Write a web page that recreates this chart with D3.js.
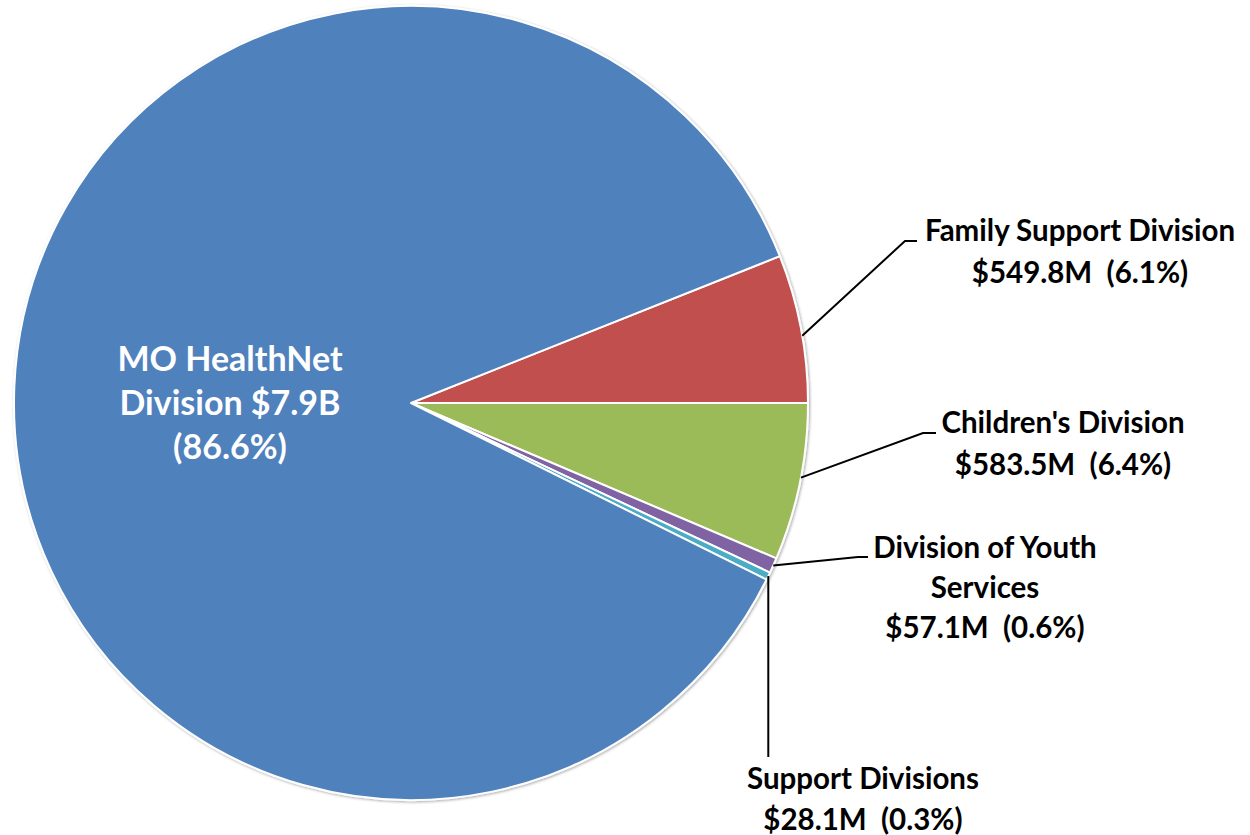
<!DOCTYPE html>
<html>
<head>
<meta charset="utf-8">
<script src="https://cdn.jsdelivr.net/npm/d3@7"></script>
<style>
  html, body { margin: 0; padding: 0; background: #fff; }
  svg { display: block; }
</style>
</head>
<body>
<svg id="chart" width="1250" height="835"></svg>
<script>
// ---- data ----
const categories = ["Family Support Division", "Children's Division", "Division of Youth Services", "Support Divisions", "MO HealthNet Division"];
const valuesM = [549.8, 583.5, 57.1, 28.1, 7900];
const amountLabels = ["$549.8M", "$583.5M", "$57.1M", "$28.1M", "$7.9B"];
const percentLabels = ["(6.1%)", "(6.4%)", "(0.6%)", "(0.3%)", "(86.6%)"];
const colors = ["#C0504D", "#9BBB59", "#8064A2", "#4BACC6", "#4F81BD"];

// label line layout (text lines per slice)
const labelLines = [
  ["Family Support Division", amountLabels[0] + "\u00a0\u00a0" + percentLabels[0]],
  ["Children's Division", amountLabels[1] + "\u00a0\u00a0" + percentLabels[1]],
  ["Division of Youth", "Services", amountLabels[2] + "\u00a0\u00a0" + percentLabels[2]],
  ["Support Divisions", amountLabels[3] + "\u00a0\u00a0" + percentLabels[3]],
  ["MO HealthNet", "Division " + amountLabels[4], percentLabels[4]]
];

const svg = d3.select("#chart");
const cx = 411, cy = 403, R = 397;
const g = svg.append("g").attr("transform", `translate(${cx},${cy})`);

const total = d3.sum(valuesM);
const firstSpan = valuesM[0] / total * 2 * Math.PI;
const start = Math.PI / 2 - firstSpan;

const pie = d3.pie().sort(null).value(d => d).startAngle(start).endAngle(start + 2 * Math.PI);
const arcs = pie(valuesM);
const arc = d3.arc().innerRadius(0).outerRadius(R);

// soft outline / shadow
const defs = svg.append("defs");
const f = defs.append("filter").attr("id", "sh").attr("x", "-10%").attr("y", "-10%").attr("width", "120%").attr("height", "120%");
f.append("feGaussianBlur").attr("in", "SourceAlpha").attr("stdDeviation", 1.5).attr("result", "b");
f.append("feOffset").attr("in", "b").attr("dx", 1).attr("dy", 1).attr("result", "o");
f.append("feComponentTransfer").attr("in", "o").attr("result", "o2")
  .append("feFuncA").attr("type", "linear").attr("slope", 0.35);
const m = f.append("feMerge");
m.append("feMergeNode").attr("in", "o2");
m.append("feMergeNode").attr("in", "SourceGraphic");

const pg = g.append("g").attr("filter", "url(#sh)");
pg.selectAll("path").data(arcs).enter().append("path")
  .attr("d", arc)
  .attr("fill", (d, i) => colors[i])
  .attr("stroke", "#fff")
  .attr("stroke-width", 2)
  .attr("stroke-linejoin", "round");

// ---- leader lines (anchored at slice edges) ----
const edge = (d, frac) => {
  const a = d.startAngle + (d.endAngle - d.startAngle) * frac;
  return [cx + R * Math.sin(a), cy - R * Math.cos(a)];
};
const leaders = [
  { i: 0, frac: 0.55, pts: [[905, 241], [917, 241]] },
  { i: 1, frac: 0.47, pts: [[923, 433], [936, 433]] },
  { i: 2, frac: 0.5, pts: [[858, 557], [868, 557]] },
  { i: 3, frac: 0.5, pts: null }
];
leaders.forEach(L => {
  const p0 = edge(arcs[L.i], L.frac);
  let pts;
  if (L.pts) pts = [p0, ...L.pts];
  else pts = [p0, [p0[0], 757]];
  svg.append("path")
    .attr("d", d3.line()(pts))
    .attr("fill", "none")
    .attr("stroke", "#000")
    .attr("stroke-width", 2);
});

// ---- labels ----
const labelPos = [
  { x: 1080, y: 241, dy: 42, size: 29.5, fill: "#000" },
  { x: 1063, y: 433, dy: 42, size: 29.5, fill: "#000" },
  { x: 985, y: 558, dy: 40, size: 29.5, fill: "#000" },
  { x: 863, y: 789, dy: 41, size: 29.5, fill: "#000" },
  { x: 230, y: 371, dy: 44, size: 34, fill: "#fff" }
];
labelLines.forEach((lines, i) => {
  const P = labelPos[i];
  const t = svg.append("text")
    .attr("text-anchor", "middle")
    .attr("font-family", "Lato, 'Open Sans', sans-serif")
    .attr("font-weight", "bold")
    .attr("font-size", P.size)
    .attr("fill", P.fill);
  lines.forEach((s, k) => {
    t.append("tspan").attr("x", P.x).attr("y", P.y + k * P.dy).text(s);
  });
});
</script>
</body>
</html>
